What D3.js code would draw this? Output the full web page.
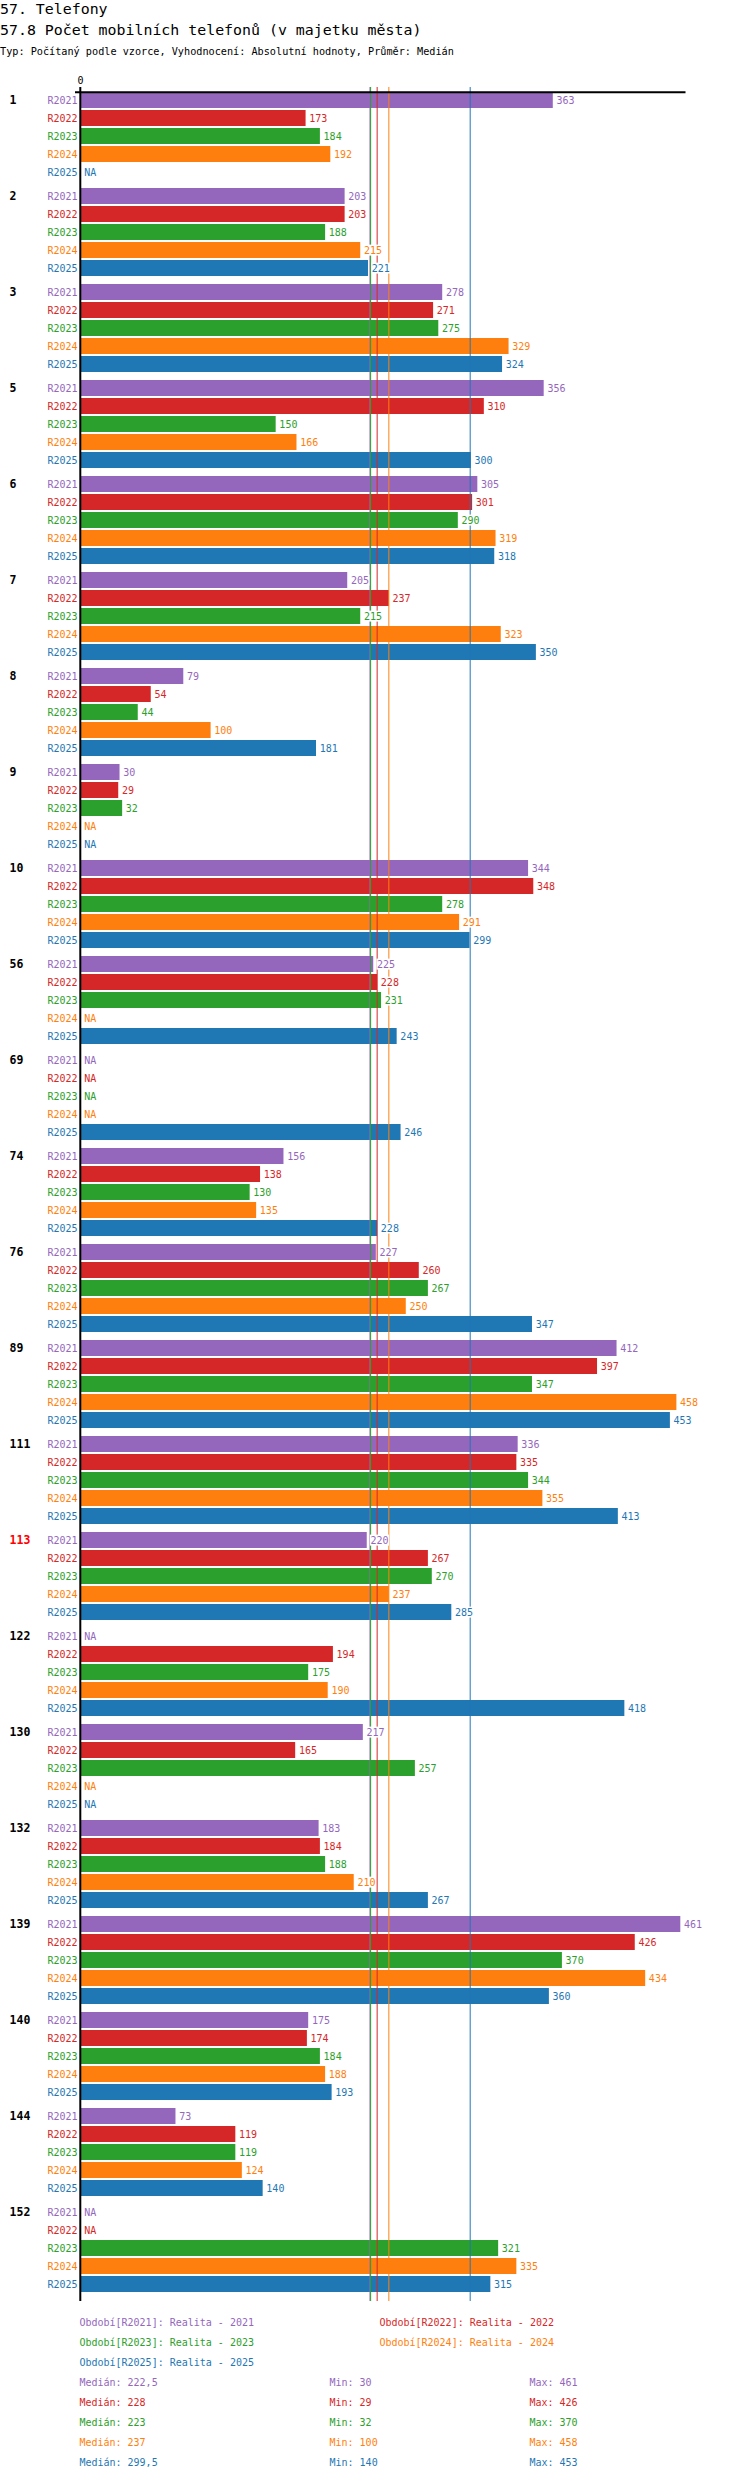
<!DOCTYPE html>
<html>
<head>
<meta charset="utf-8">
<script src="https://cdn.jsdelivr.net/npm/d3@7"></script>
<style>
  html, body { margin: 0; padding: 0; background: #fff; }
  svg text { font-family: "DejaVu Sans Mono", monospace; }
</style>
</head>
<body>
<svg id="chart" width="750" height="2480"></svg>
<script>
const titleText = "57. Telefony";
const subtitleText = "57.8 Počet mobilních telefonů (v majetku města)";
const infoText = "Typ: Počítaný podle vzorce, Vyhodnocení: Absolutní hodnoty, Průměr: Medián";

const categories = ["1","2","3","5","6","7","8","9","10","56","69","74","76","89","111","113","122","130","132","139","140","144","152"];
const highlighted = ["113"];
const seriesKeys = ["R2021","R2022","R2023","R2024","R2025"];
const seriesNames = ["Realita - 2021","Realita - 2022","Realita - 2023","Realita - 2024","Realita - 2025"];
const seriesColors = ["#9467bd","#d62728","#2ca02c","#ff7f0e","#1f77b4"];

const r2021 = [363,203,278,356,305,205,79,30,344,225,null,156,227,412,336,220,null,217,183,461,175,73,null];
const r2022 = [173,203,271,310,301,237,54,29,348,228,null,138,260,397,335,267,194,165,184,426,174,119,null];
const r2023 = [184,188,275,150,290,215,44,32,278,231,null,130,267,347,344,270,175,257,188,370,184,119,321];
const r2024 = [192,215,329,166,319,323,100,null,291,null,null,135,250,458,355,237,190,null,210,434,188,124,335];
const r2025 = [null,221,324,300,318,350,181,null,299,243,246,228,347,453,413,285,418,null,267,360,193,140,315];
const seriesValues = [r2021, r2022, r2023, r2024, r2025];

const tickValues = [0];

const svg = d3.select("#chart");

// Titles
svg.append("text").attr("x", 0).attr("y", 13.5).attr("font-size", 14.9).attr("fill", "#000").text(titleText);
svg.append("text").attr("x", 0).attr("y", 35).attr("font-size", 14.9).attr("fill", "#000").text(subtitleText);
svg.append("text").attr("x", 0).attr("y", 55).attr("font-size", 10.2).attr("fill", "#000").text(infoText);

// Scales
const x = d3.scaleLinear().domain([0, 465]).range([80.5, 685.5]);
const gY = d3.scaleBand().domain(categories).range([92, 92 + categories.length * 96]);
const rY = d3.scaleBand().domain(seriesKeys).range([0, 88]).paddingInner(2 / 18).paddingOuter(0);

const colorOf = d3.scaleOrdinal().domain(seriesKeys).range(seriesColors);

const lineTop = 87, lineBottom = 2301;

// Rows
const rows = [];
categories.forEach((c, i) => {
  seriesKeys.forEach((k, j) => {
    rows.push({cat: c, key: k, value: seriesValues[j][i]});
  });
});

// Bars
svg.append("g").selectAll("rect").data(rows.filter(d => d.value != null)).join("rect")
  .attr("x", x(0))
  .attr("y", d => gY(d.cat) + rY(d.key))
  .attr("width", d => x(d.value) - x(0))
  .attr("height", rY.bandwidth())
  .attr("fill", d => colorOf(d.key));

// Stats
const medians = seriesValues.map(v => d3.median(v.filter(d => d != null)));
const mins = seriesValues.map(v => d3.min(v.filter(d => d != null)));
const maxs = seriesValues.map(v => d3.max(v.filter(d => d != null)));

// Median lines
svg.append("g").selectAll("line").data(seriesKeys).join("line")
  .attr("x1", (k, j) => x(medians[j])).attr("x2", (k, j) => x(medians[j]))
  .attr("y1", lineTop).attr("y2", lineBottom)
  .attr("stroke", k => colorOf(k)).attr("stroke-width", 1);

// Axis: top horizontal line and zero line
svg.append("line").attr("x1", 75).attr("x2", x.range()[1]).attr("y1", 92.3).attr("y2", 92.3)
  .attr("stroke", "#000").attr("stroke-width", 2);
svg.append("line").attr("x1", x(0) - 0.2).attr("x2", x(0) - 0.2).attr("y1", lineTop).attr("y2", lineBottom)
  .attr("stroke", "#000").attr("stroke-width", 2);
svg.append("g").selectAll("text").data(tickValues).join("text")
  .attr("x", d => x(d)).attr("y", 84).attr("text-anchor", "middle")
  .attr("font-size", 10).attr("fill", "#000").text(d => d);

// Category labels
svg.append("g").selectAll("text").data(categories).join("text")
  .attr("x", 9.6)
  .attr("y", c => gY(c) + rY(seriesKeys[0]) + rY.bandwidth() / 2)
  .attr("dy", "0.36em")
  .attr("font-size", 11.5).attr("font-weight", "bold")
  .attr("fill", c => highlighted.includes(c) ? "#ff0000" : "#000")
  .text(c => c);

// Series labels
svg.append("g").selectAll("text").data(rows).join("text")
  .attr("x", 77.5).attr("text-anchor", "end")
  .attr("y", d => gY(d.cat) + rY(d.key) + rY.bandwidth() / 2)
  .attr("dy", "0.36em")
  .attr("font-size", 10)
  .attr("fill", d => colorOf(d.key))
  .text(d => d.key);

// Value labels with white background
const gVal = svg.append("g");
rows.forEach(d => {
  const tx = (d.value == null ? x(0) : x(d.value)) + 3.7;
  const ty = gY(d.cat) + rY(d.key) + rY.bandwidth() / 2;
  const g = gVal.append("g");
  const bg = g.append("rect").attr("fill", "#fff");
  const t = g.append("text").attr("x", tx).attr("y", ty).attr("dy", "0.36em")
    .attr("font-size", 10).attr("fill", colorOf(d.key))
    .text(d.value == null ? "NA" : d.value);
  const bb = t.node().getBBox();
  bg.attr("x", bb.x - 0.5).attr("y", bb.y).attr("width", bb.width + 1).attr("height", bb.height);
});

// Legend
const legend = svg.append("g");
seriesKeys.forEach((k, i) => {
  legend.append("text")
    .attr("x", 79.4 + (i % 2) * 300)
    .attr("y", 2322 + Math.floor(i / 2) * 20)
    .attr("dy", "0.36em")
    .attr("font-size", 10)
    .attr("fill", colorOf(k))
    .text(`Období[${k}]: ${seriesNames[i]}`);
});

const fmt = v => String(v).replace(".", ",");
seriesKeys.forEach((k, i) => {
  const y = 2382 + i * 20;
  legend.append("text").attr("x", 79.4).attr("y", y).attr("dy", "0.36em")
    .attr("font-size", 10).attr("fill", colorOf(k)).text(`Medián: ${fmt(medians[i])}`);
  legend.append("text").attr("x", 329.5).attr("y", y).attr("dy", "0.36em")
    .attr("font-size", 10).attr("fill", colorOf(k)).text(`Min: ${fmt(mins[i])}`);
  legend.append("text").attr("x", 529.4).attr("y", y).attr("dy", "0.36em")
    .attr("font-size", 10).attr("fill", colorOf(k)).text(`Max: ${fmt(maxs[i])}`);
});
</script>
</body>
</html>
